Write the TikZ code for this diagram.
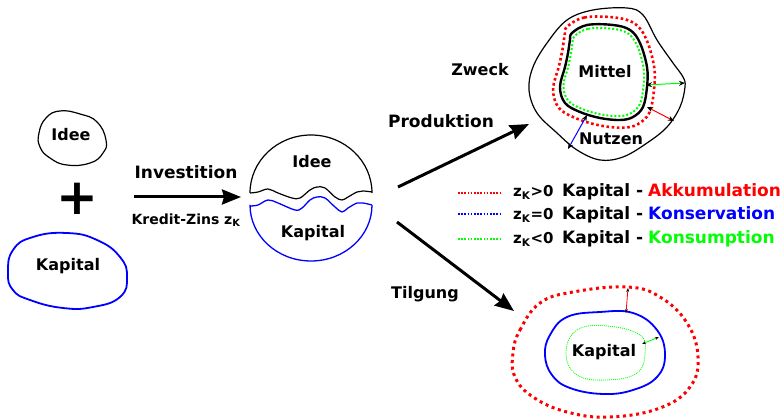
\documentclass[tikz,border=0pt]{standalone}
\usepackage{fontspec}
\setmainfont{DejaVu Sans}
\usetikzlibrary{arrows.meta}
\begin{document}
\begin{tikzpicture}[x=1pt,y=-1pt,
  lbl/.style={font=\bfseries\fontsize{16}{18}\selectfont, inner sep=0pt},
  biglbl/.style={font=\bfseries\fontsize{17}{19}\selectfont, inner sep=0pt},
  leg/.style={font=\bfseries\fontsize{17}{19}\selectfont, inner sep=0pt, anchor=base west},
  thinblob/.style={draw=black, line width=1.2pt},
  blueblob/.style={draw=blue, line width=1.8pt},
  bigarrow/.style={line width=3pt, -{Stealth[length=19pt,width=15pt,inset=2pt]}},
  dbl/.style={line width=1pt, {Stealth[length=6pt,width=5pt,color=black]}-{Stealth[length=6pt,width=5pt,color=black]}},
  reddots/.style={draw=red, line width=2.6pt, dash pattern=on 2.6pt off 2.6pt},
  greendots/.style={draw=green, line width=2pt, dash pattern=on 2pt off 2pt},
  legline/.style={line width=1.5pt, dash pattern=on 1.6pt off 1.6pt}]
\useasboundingbox (0,0) rectangle (784,419);

% ---------- Idee + Kapital ----------
\draw[thinblob] plot[smooth cycle, tension=0.8] coordinates {
  (39,133) (46,118) (60,111) (80,114) (97,122) (106,140) (103,153)
  (90,163) (67,165) (50,158) (40,147)};
\node[lbl] (idee1) at (71,135) {Idee};
\node[font=\bfseries\fontsize{50}{50}\selectfont, inner sep=0pt] (plus) at (77,199) {+};
\draw[blueblob] plot[smooth cycle, tension=0.8] coordinates {
  (8,273) (13,250) (33,237) (67,233) (97,240) (120,257) (127,277)
  (120,297) (93,307) (63,308) (30,300) (13,290)};
\node[lbl] (kap1) at (68,266) {Kapital};

% ---------- Investition ----------
\node[biglbl] (inv) at (186,172) {Investition};
\node[font=\bfseries\fontsize{14}{16}\selectfont, inner sep=0pt] (kz) at (186,220) {Kredit-Zins z\textsubscript{K}};
\coordinate (invA) at (134,197);
\coordinate (invB) at (241,197);
\draw[bigarrow] (invA) -- (invB);

% ---------- split sphere ----------
\draw[black, line width=1.2pt] (250,193) arc[start angle=180, end angle=360, x radius=61, y radius=58]
  -- plot[smooth, tension=0.6] coordinates {(372,192) (363,191) (357,192) (348,197) (342,200)
     (335,197) (325,188) (317,187) (310,190) (300,198) (292,198) (278,193) (268,189)
     (258,192) (250,193)};
\draw[blue, line width=1.3pt] (372,205) arc[start angle=0, end angle=180, x radius=61, y radius=56]
  -- plot[smooth, tension=0.6] coordinates {(250,206) (258,205) (268,200) (278,203) (295,210)
     (302,208) (310,200) (317,197) (325,198) (335,207) (342,212) (348,208) (357,203)
     (363,203) (372,205)};
\node[lbl] (idee2) at (312,162) {Idee};
\node[lbl] (kap2) at (313,233) {Kapital};

% ---------- Produktion / Tilgung ----------
\node[lbl] (zweck) at (480,70) {Zweck};
\node[biglbl] (prod) at (441,121) {Produktion};
\coordinate (prodA) at (398,187);
\coordinate (prodB) at (529,124);
\draw[bigarrow] (prodA) -- (prodB);
\node[lbl] (tilg) at (425,294) {Tilgung};
\coordinate (tilgA) at (397,222);
\coordinate (tilgB) at (514,311);
\draw[bigarrow] (tilgA) -- (tilgB);

% ---------- Zweck / Mittel / Nutzen ----------
\draw[thinblob] plot[smooth cycle, tension=0.6] coordinates {
  (533,67) (547,43) (567,20) (593,10) (627,8) (643,15) (657,40) (673,63)
  (683,77) (685,87) (680,107) (667,127) (647,143) (623,157) (600,160)
  (577,150) (557,133) (537,113) (529,90)};
\def\innerblob{plot[smooth cycle, tension=0.6] coordinates {
  (-31,-39) (-16,-47) (10,-47) (27,-42) (37,-29) (44,-5) (44,15) (40,35)
  (30,45) (17,48) (-3,46) (-23,40) (-38,31) (-43,15) (-38,-5) (-35,-19) (-33,-32)}}
\begin{scope}[shift={(603,72)}, scale=1.16]
  \draw[reddots] \innerblob;
\end{scope}
\begin{scope}[shift={(603,72)}, scale=0.92]
  \draw[greendots] \innerblob;
\end{scope}
\begin{scope}[shift={(603,72)}]
  \draw[black, line width=2.4pt] \innerblob;
\end{scope}
\node[lbl] (mittel) at (605,72) {Mittel};
\node[lbl] (nutzen) at (611,139) {Nutzen};
\coordinate (gA) at (646,85);
\coordinate (gB) at (685,83);
\draw[dbl, green] (gA) -- (gB);
\coordinate (rA) at (647,107);
\coordinate (rB) at (674,121);
\draw[dbl, red] (rA) -- (rB);
\coordinate (bA) at (587,115);
\coordinate (bB) at (568,149);
\draw[dbl, blue] (bA) -- (bB);

% ---------- legend ----------
\coordinate (l1a) at (458,193); \coordinate (l1b) at (502,193);
\coordinate (l2a) at (458,214); \coordinate (l2b) at (502,214);
\coordinate (l3a) at (458,239); \coordinate (l3b) at (502,239);
\draw[legline, red] (l1a) -- (l1b);
\draw[legline, blue] (l2a) -- (l2b);
\draw[legline, green] (l3a) -- (l3b);
\node[leg, font=\bfseries\fontsize{15}{17}\selectfont] (z1) at (513,197) {z\textsubscript{K}>0};
\node[leg, font=\bfseries\fontsize{15}{17}\selectfont] (z2) at (513,220) {z\textsubscript{K}=0};
\node[leg, font=\bfseries\fontsize{15}{17}\selectfont] (z3) at (513,244) {z\textsubscript{K}<0};
\node[leg] (k1) at (562,197) {Kapital -};
\node[leg] (k2) at (562,220) {Kapital -};
\node[leg] (k3) at (562,244) {Kapital -};
\node[leg, text=red] (t1) at (648,197) {Akkumulation};
\node[leg, text=blue] (t2) at (648,220) {Konservation};
\node[leg, text=green] (t3) at (648,244) {Konsumption};

% ---------- Tilgung result ----------
\draw[draw=red, line width=3pt, dash pattern=on 3pt off 3.6pt] plot[smooth cycle, tension=0.7] coordinates {
  (513,353) (520,330) (540,303) (573,292) (627,287) (660,297) (687,323)
  (698,357) (690,387) (660,408) (610,417) (567,412) (533,397) (515,377)};
\draw[blueblob] plot[smooth cycle, tension=0.7] coordinates {
  (545,355) (550,335) (567,317) (600,312) (633,313) (657,330) (665,355)
  (657,377) (633,390) (603,394) (570,388) (552,375)};
\draw[draw=green, line width=0.8pt, dash pattern=on 1pt off 1pt] plot[smooth cycle, tension=0.7] coordinates {
  (566,353) (577,330) (607,326) (640,335) (645,353) (637,373) (607,380) (577,375)};
\node[lbl] (kap3) at (604,352) {Kapital};
\coordinate (brA) at (628,288);
\coordinate (brB) at (626,313);
\draw[red, line width=0.8pt, {Stealth[length=4pt,width=3pt,color=black]}-{Stealth[length=4pt,width=3pt,color=black]}] (brA) -- (brB);
\coordinate (bgA) at (642,344);
\coordinate (bgB) at (659,337);
\draw[green, line width=0.8pt, {Stealth[length=4pt,width=3pt,color=black]}-{Stealth[length=4pt,width=3pt,color=black]}] (bgA) -- (bgB);
\end{tikzpicture}
\end{document}
